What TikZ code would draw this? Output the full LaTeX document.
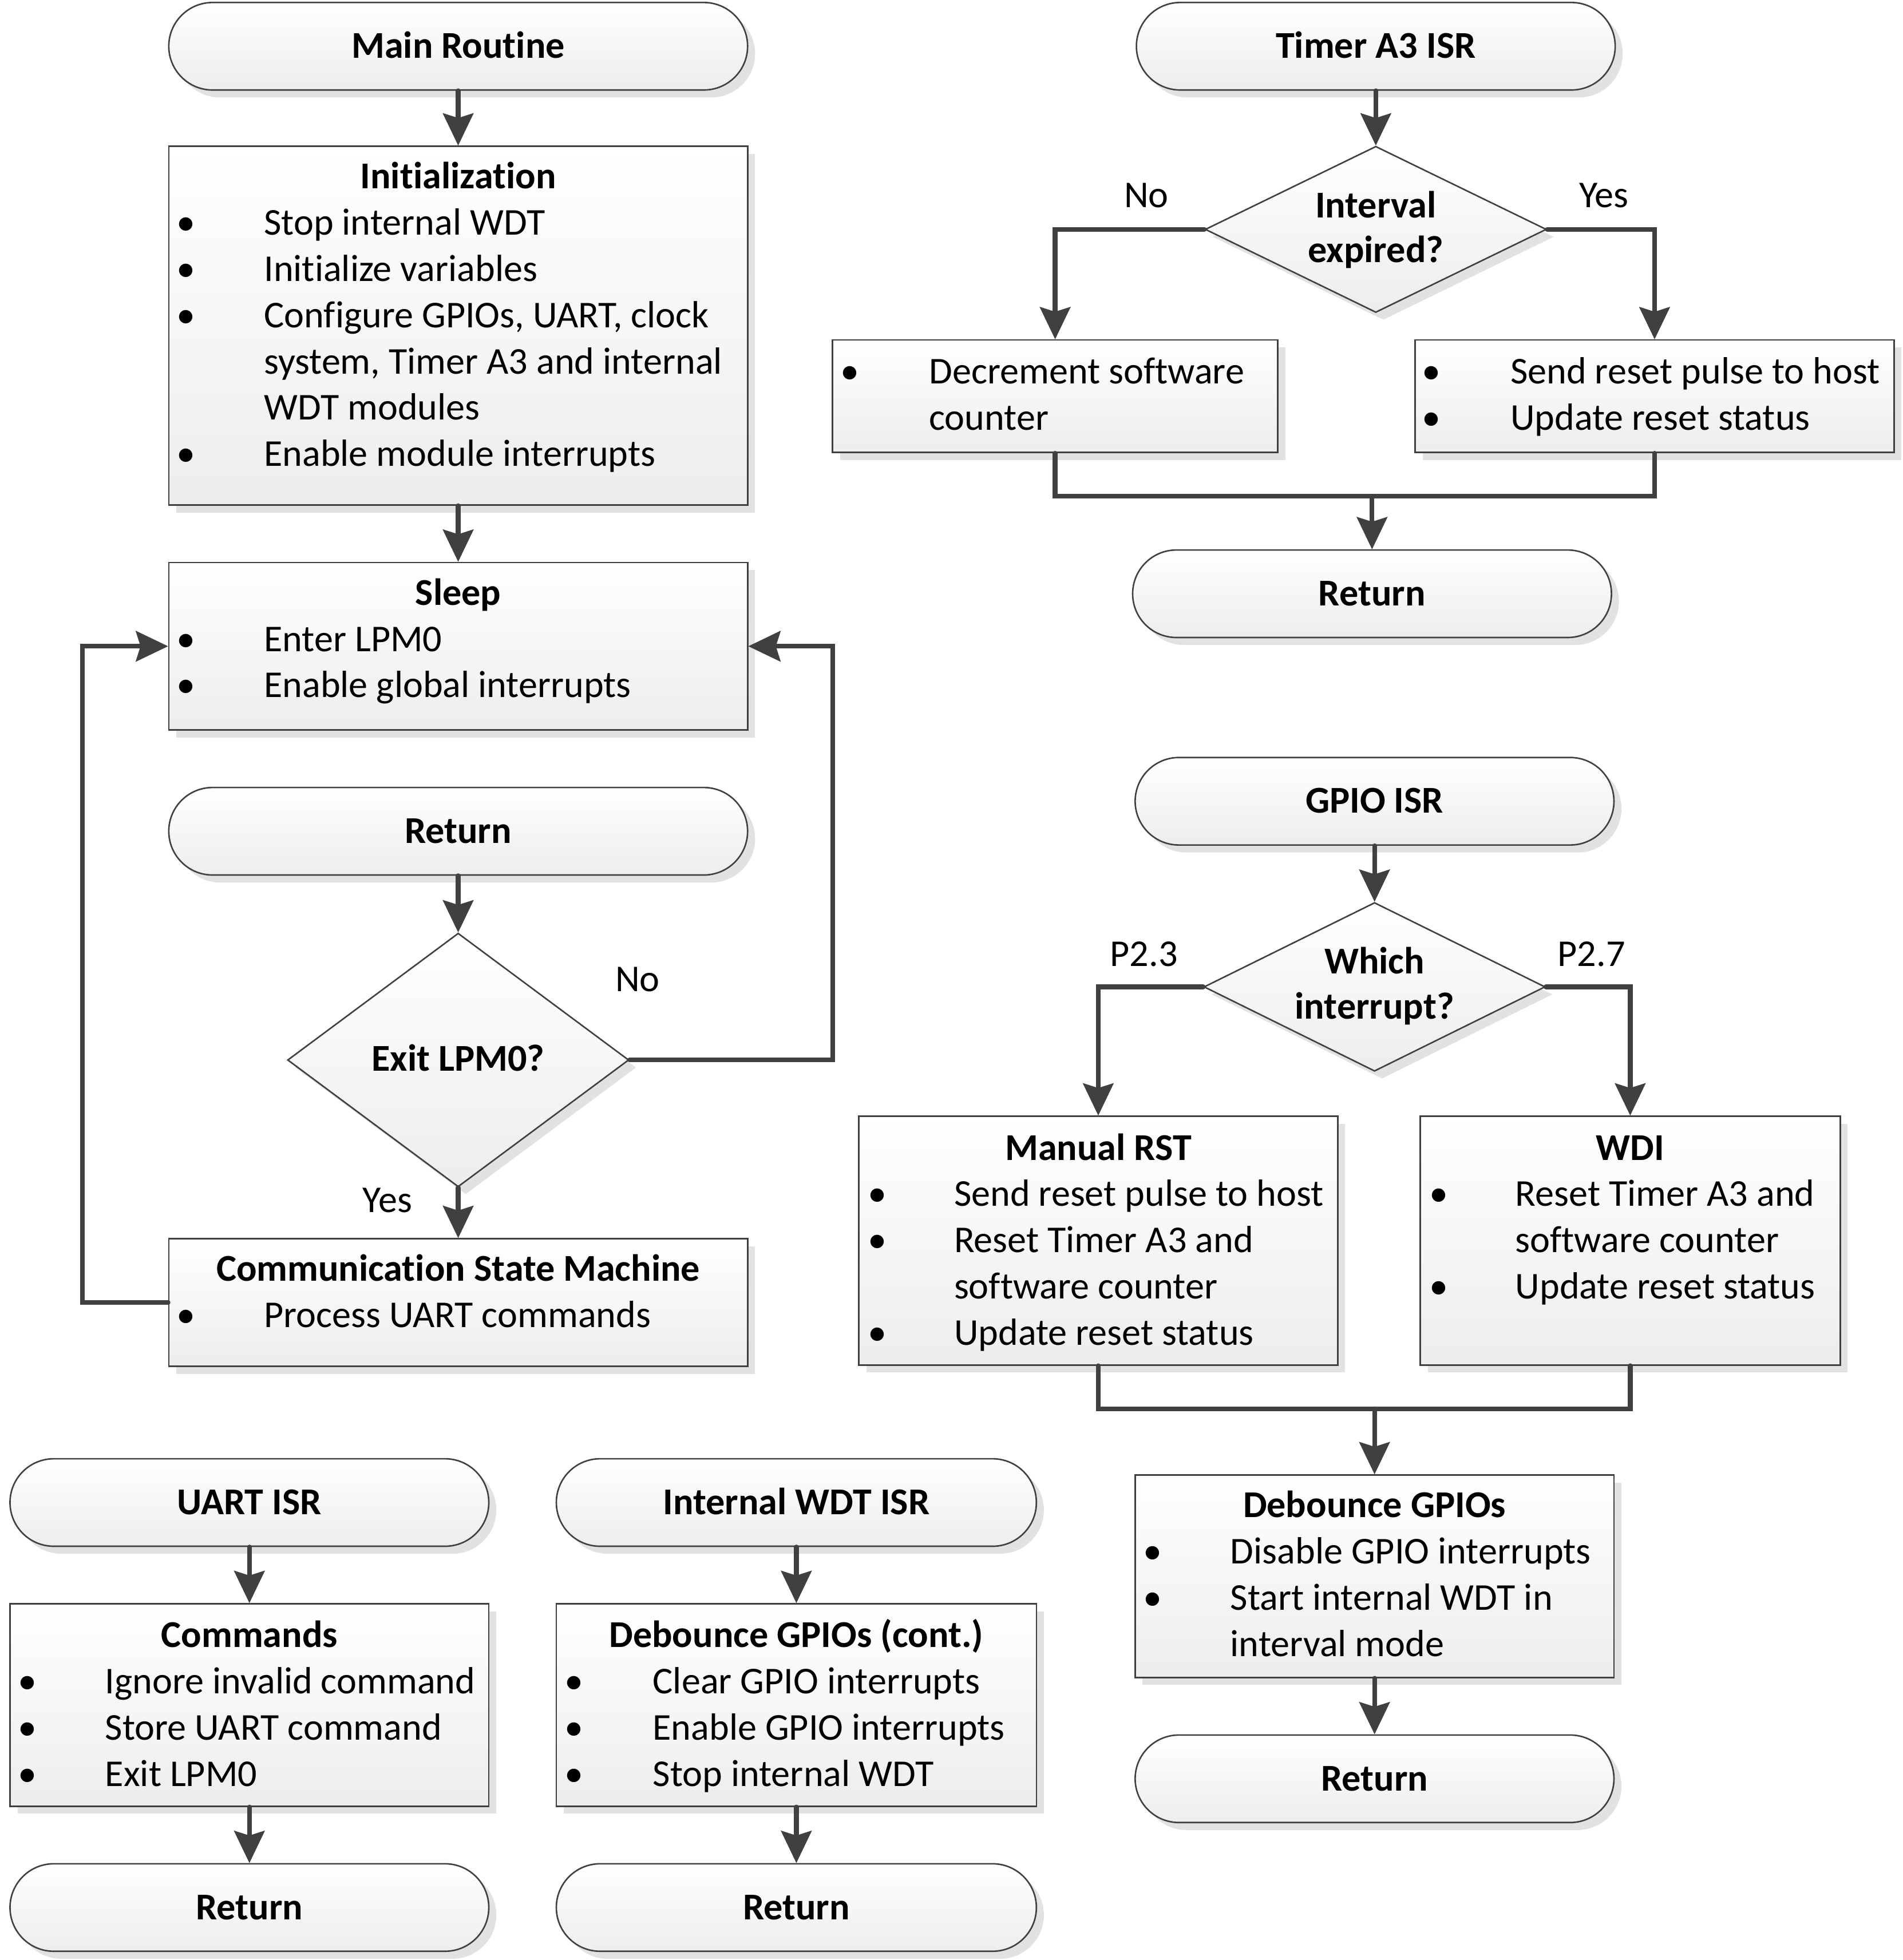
\documentclass[tikz,border=0pt]{standalone}
\usepackage{fontspec}
\setmainfont{Carlito}[Ligatures=NoCommon]
\usetikzlibrary{arrows.meta,shapes.geometric}
\definecolor{ln}{HTML}{404040}
\definecolor{shc}{HTML}{E2E2E2}
\definecolor{fb}{HTML}{EDEDED}
\newcommand\nf{\fontsize{30.3}{37}\selectfont}
\newcommand\bb[3]{\node[bul] (#1) at (#2,#3) {•};}
\newcommand\bt[4]{\node[tx] (#1) at (#2,#3) {#4};}
\tikzset{
  shp/.style={draw=ln, line width=1.2pt, top color=white, bottom color=fb,
    preaction={fill=shc, transform canvas={shift={(6pt,-6pt)}}}},
  term/.style={shp, rectangle, rounded corners=35pt, minimum height=70pt, inner sep=0pt,
    font=\nf\bfseries, text height=19pt, text depth=0pt},
  box/.style={shp, rectangle, inner sep=0pt},
  dia/.style={shp, diamond, inner sep=0pt},
  tx/.style={inner sep=0pt, anchor=base west, font=\nf},
  ttl/.style={inner sep=0pt, anchor=base, font=\nf\bfseries},
  lab/.style={inner sep=0pt, anchor=base, font=\nf},
  bul/.style={inner sep=0pt, anchor=base, font=\nf},
  con/.style={draw=ln, line width=3.8pt, line cap=round},
  arr/.style={con, -{Stealth[length=26pt,width=25pt,inset=4pt,line width=0pt]}},
}
\begin{document}
\begin{tikzpicture}[x=1pt,y=-1pt]
\useasboundingbox (0,0) rectangle (1522.2,1568);
% ---------------- Main routine ----------------
\node[term, minimum width=463pt] (main) at (366.5,37) {Main Routine};
\node[box, minimum width=463pt, minimum height=287pt] (init) at (366.5,260.5) {};
\node[ttl] (initT) at (366.5,151) {Initialization};
\bb{ib1}{149}{188}\bt{it1}{211}{188}{Stop internal WDT}
\bb{ib2}{149}{225}\bt{it2}{211}{225}{Initialize variables}
\bb{ib3}{149}{262}\bt{it3}{211}{262}{Configure GPIOs, UART, clock}
\bt{it4}{211}{299}{system, Timer A3 and internal}
\bt{it5}{211}{336}{WDT modules}
\bb{ib6}{149}{373}\bt{it6}{211}{373}{Enable module interrupts}

\node[box, minimum width=463pt, minimum height=134pt] (sleep) at (366.5,517) {};
\node[ttl] (sleepT) at (366.5,484) {Sleep};
\bb{sb1}{149}{521}\bt{st1}{211}{521}{Enter LPM0}
\bb{sb2}{149}{558}\bt{st2}{211}{558}{Enable global interrupts}

\node[term, minimum width=463pt] (ret2) at (366.5,665) {Return};
\node[dia, minimum width=273pt, minimum height=203pt] (exitd) at (366.5,848) {};
\node[ttl] (exitT) at (366.5,857) {Exit LPM0?};
\node[lab] (no1) at (510,793) {No};
\node[lab] (yes1) at (310,970) {Yes};

\node[box, minimum width=463pt, minimum height=102pt] (csm) at (366.5,1042) {};
\node[ttl] (csmT) at (366.5,1025) {Communication State Machine};
\bb{cb1}{149}{1062}\bt{ct1}{211}{1062}{Process UART commands}

\draw[arr] (main.south) -- (init.north);
\draw[arr] (init.south) -- (sleep.north);
\draw[arr] (ret2.south) -- (exitd.north);
\draw[arr] (exitd.south) -- (csm.north);
\coordinate (lr) at (666,848);
\draw[arr] (exitd.east) -- (lr) |- (sleep.east);
\coordinate (ll) at (66,1042);
\draw[arr] (csm.west) -- (ll) |- (sleep.west);

% ---------------- Timer A3 ISR ----------------
\node[term, minimum width=383pt] (timer) at (1100.5,37) {Timer A3 ISR};
\node[dia, minimum width=273pt, minimum height=133pt] (intd) at (1100.5,183.5) {};
\node[ttl] (intT1) at (1100.5,174) {Interval};
\node[ttl] (intT2) at (1100.5,210) {expired?};
\node[lab] (no2) at (917,166) {No};
\node[lab] (yes2) at (1283,166) {Yes};
\node[box, minimum width=356pt, minimum height=90pt] (dec) at (844,317) {};
\bb{db1}{680}{307}\bt{dt1}{743}{307}{Decrement software}
\bt{dt2}{743}{344}{counter}
\node[box, minimum width=383pt, minimum height=90pt] (send) at (1323.5,317) {};
\bb{eb1}{1145}{307}\bt{et1}{1208}{307}{Send reset pulse to host}
\bb{eb2}{1145}{344}\bt{et2}{1208}{344}{Update reset status}
\node[term, minimum width=383pt] (ret1) at (1097.5,475) {Return};

\draw[arr] (timer.south) -- (intd.north);
\draw[arr] (intd.west) -| (dec.north);
\draw[arr] (intd.east) -| (send.north);
\coordinate (m1) at (1097.5,397);
\draw[con] (dec.south) |- (m1) -| (send.south);
\draw[arr] (m1) -- (ret1.north);

% ---------------- GPIO ISR ----------------
\node[term, minimum width=383pt] (gpio) at (1099.5,641) {GPIO ISR};
\node[dia, minimum width=273pt, minimum height=135pt] (whd) at (1099.5,789.5) {};
\node[ttl] (whT1) at (1099.5,779) {Which};
\node[ttl] (whT2) at (1099.5,815) {interrupt?};
\node[lab] (p23) at (915,773) {P2.3};
\node[lab] (p27) at (1273,773) {P2.7};
\node[box, minimum width=383pt, minimum height=199pt] (mrst) at (878.5,992.5) {};
\node[ttl] (mrT) at (878.5,928) {Manual RST};
\bb{mb1}{702}{965}\bt{mt1}{763}{965}{Send reset pulse to host}
\bb{mb2}{702}{1002}\bt{mt2}{763}{1002}{Reset Timer A3 and}
\bt{mt3}{763}{1039}{software counter}
\bb{mb4}{702}{1076}\bt{mt4}{763}{1076}{Update reset status}
\node[box, minimum width=336pt, minimum height=199pt] (wdi) at (1304,992.5) {};
\node[ttl] (wdT) at (1304,928) {WDI};
\bb{wb1}{1151}{965}\bt{wt1}{1212}{965}{Reset Timer A3 and}
\bt{wt2}{1212}{1002}{software counter}
\bb{wb3}{1151}{1039}\bt{wt3}{1212}{1039}{Update reset status}
\node[box, minimum width=383pt, minimum height=162pt] (deb) at (1099.5,1261) {};
\node[ttl] (dbT) at (1099.5,1214) {Debounce GPIOs};
\bb{gb1}{922}{1251}\bt{gt1}{984}{1251}{Disable GPIO interrupts}
\bb{gb2}{922}{1288}\bt{gt2}{984}{1288}{Start internal WDT in}
\bt{gt3}{984}{1325}{interval mode}
\node[term, minimum width=383pt] (ret3) at (1099.5,1423) {Return};

\draw[arr] (gpio.south) -- (whd.north);
\draw[arr] (whd.west) -| (mrst.north);
\draw[arr] (whd.east) -| (wdi.north);
\coordinate (m2) at (1099.5,1127);
\draw[con] (mrst.south) |- (m2) -| (wdi.south);
\draw[arr] (m2) -- (deb.north);
\draw[arr] (deb.south) -- (ret3.north);

% ---------------- UART ISR ----------------
\node[term, minimum width=383pt] (uart) at (199.5,1202) {UART ISR};
\node[box, minimum width=383pt, minimum height=162pt] (cmd) at (199.5,1364) {};
\node[ttl] (cmT) at (199.5,1318) {Commands};
\bb{ub1}{22}{1355}\bt{ut1}{84}{1355}{Ignore invalid command}
\bb{ub2}{22}{1392}\bt{ut2}{84}{1392}{Store UART command}
\bb{ub3}{22}{1429}\bt{ut3}{84}{1429}{Exit LPM0}
\node[term, minimum width=383pt] (ret4) at (199.5,1526) {Return};
\draw[arr] (uart.south) -- (cmd.north);
\draw[arr] (cmd.south) -- (ret4.north);

% ---------------- Internal WDT ISR ----------------
\node[term, minimum width=384pt] (wisr) at (637,1202) {Internal WDT ISR};
\node[box, minimum width=384pt, minimum height=162pt] (debc) at (637,1364) {};
\node[ttl] (dcT) at (637,1318) {Debounce GPIOs (cont.)};
\bb{vb1}{459}{1355}\bt{vt1}{522}{1355}{Clear GPIO interrupts}
\bb{vb2}{459}{1392}\bt{vt2}{522}{1392}{Enable GPIO interrupts}
\bb{vb3}{459}{1429}\bt{vt3}{522}{1429}{Stop internal WDT}
\node[term, minimum width=384pt] (ret5) at (637,1526) {Return};
\draw[arr] (wisr.south) -- (debc.north);
\draw[arr] (debc.south) -- (ret5.north);
\end{tikzpicture}
\end{document}
